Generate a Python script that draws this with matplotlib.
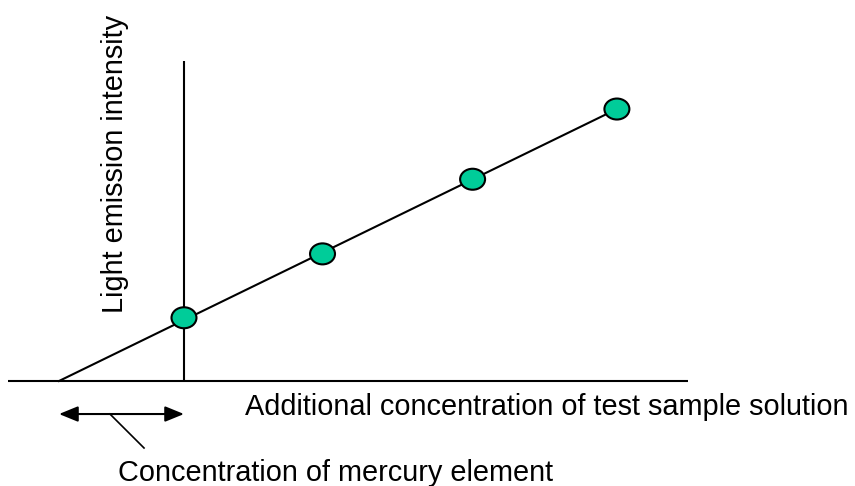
import matplotlib
matplotlib.use("Agg")
import matplotlib.pyplot as plt
from matplotlib.patches import Ellipse

# standard addition plot: intensity vs added concentration
added_conc = [0.0, 0.96, 2.0, 3.0]
intensity = [1.0, 2.01, 3.19, 4.30]
x_intercept = -0.866          # where the fitted line meets the x axis

x_label = "Additional concentration of test sample solution"
y_label = "Light emission intensity"
hg_label = "Concentration of mercury element"

FONT = "Liberation Sans"
FS = 20.8
GREEN = "#00CC99"

fig = plt.figure(figsize=(8.55, 4.86), dpi=100)
ax = fig.add_axes([0, 0, 1, 1])
ax.set_xlim(-1.275, 4.650)
ax.set_ylim(-1.660, 6.024)
ax.axis("off")

# axes drawn as plain lines
ax.plot([-1.22, 3.493], [0, 0], color="black", lw=1.5, solid_capstyle="butt")
ax.plot([0, 0], [0, 5.06], color="black", lw=1.5, solid_capstyle="butt")

# fitted line from the x intercept up to the last point
ax.plot([x_intercept, added_conc[-1]], [0, intensity[-1]], color="black", lw=1.5)

for xc, yi in zip(added_conc, intensity):
    ax.add_patch(Ellipse((xc, yi), width=0.173, height=0.332,
                         facecolor=GREEN, edgecolor="black", lw=1.5, zorder=3))

# double arrow marking the mercury concentration
ax.annotate("", xy=(0, -0.522), xytext=(x_intercept, -0.522),
            arrowprops=dict(arrowstyle="<|-|>,head_length=1.15,head_width=0.47",
                            mutation_scale=10, color="black", lw=1.5,
                            shrinkA=0, shrinkB=0))
ax.plot([-0.513, -0.277], [-0.522, -1.059], color="black", lw=1.2)

ax.text(0.423, -0.538, x_label, fontsize=FS, family=FONT, va="baseline", ha="left")
ax.text(-0.457, -1.581, hg_label, fontsize=FS, family=FONT, va="baseline", ha="left")
ax.text(-0.423, 3.439, y_label, fontsize=FS, family=FONT, rotation=90,
        rotation_mode="anchor", va="baseline", ha="center")

fig.savefig("out.png", dpi=100)
